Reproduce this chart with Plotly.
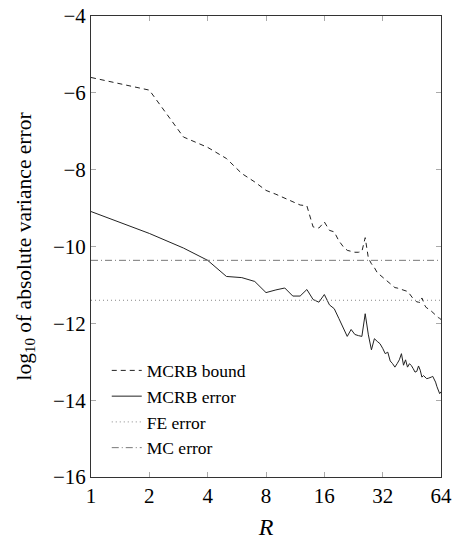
import plotly.graph_objects as go

R = list(range(1, 65))

mcrb_bound = [
    -5.60, -5.93, -7.15, -7.42, -7.71, -8.10, -8.32, -8.54, -8.64, -8.75,
    -8.84, -8.92, -8.94, -9.49, -9.52, -9.36, -9.58, -9.62, -9.85, -10.00,
    -10.10, -10.13, -10.15, -10.15, -10.13, -9.77, -10.30, -10.45, -10.55, -10.68,
    -10.74, -10.82, -10.88, -10.92, -10.98, -11.02, -11.07, -11.08, -11.10, -11.12,
    -11.14, -11.16, -11.17, -11.23, -11.30, -11.36, -11.40, -11.44, -11.45, -11.46,
    -11.34, -11.45, -11.55, -11.60, -11.62, -11.64, -11.68, -11.72, -11.75, -11.78,
    -11.82, -11.85, -11.87, -11.90,
]

mcrb_error = [
    -9.09, -9.66, -10.04, -10.36, -10.78, -10.81, -10.91, -11.20, -11.13, -11.08,
    -11.29, -11.29, -11.12, -11.38, -11.45, -11.25, -11.52, -11.62, -11.87, -12.10,
    -12.34, -12.16, -12.29, -12.32, -12.34, -11.75, -12.30, -12.69, -12.40, -12.47,
    -12.53, -12.65, -12.79, -12.75, -12.98, -13.05, -13.14, -13.05, -12.95, -12.79,
    -13.09, -12.95, -13.14, -13.05, -13.10, -13.18, -13.27, -13.25, -13.11, -13.22,
    -13.40, -13.36, -13.40, -13.44, -13.43, -13.42, -13.40, -13.38, -13.45, -13.53,
    -13.65, -13.75, -13.83, -13.78,
]

fe_error = -11.40
mc_error = -10.36

series_names = ["MCRB bound", "MCRB error", "FE error", "MC error"]
x_ticks = [1, 2, 4, 8, 16, 32, 64]
y_ticks = [-16, -14, -12, -10, -8, -6, -4]

FONT = "Liberation Serif, Times New Roman, serif"

fig = go.Figure()
fig.add_trace(go.Scatter(x=R, y=mcrb_bound, mode="lines", name=series_names[0],
                         line=dict(color="#222", width=1, dash="5px,4px")))
fig.add_trace(go.Scatter(x=R, y=mcrb_error, mode="lines", name=series_names[1],
                         line=dict(color="#222", width=1)))
fig.add_trace(go.Scatter(x=[R[0], R[-1]], y=[fe_error, fe_error], mode="lines", name=series_names[2],
                         line=dict(color="#888", width=1, dash="1px,3px")))
fig.add_trace(go.Scatter(x=[R[0], R[-1]], y=[mc_error, mc_error], mode="lines", name=series_names[3],
                         line=dict(color="#777", width=1, dash="7px,3px,1px,3px")))

fig.update_layout(
    width=461, height=540,
    margin=dict(l=91, r=20, t=16, b=63),
    paper_bgcolor="white", plot_bgcolor="white",
    font=dict(family=FONT, size=21, color="black"),
    showlegend=True,
    legend=dict(x=0.045, y=0.27, xanchor="left", yanchor="top",
                bgcolor="rgba(0,0,0,0)", font=dict(size=17.5, family=FONT),
                tracegroupgap=0, itemwidth=30),
)
fig.update_xaxes(
    type="log", range=[0, 1.80618], tickvals=x_ticks, ticktext=[str(v) for v in x_ticks],
    showgrid=False, zeroline=False, showline=True, linecolor="#333", linewidth=1, mirror="allticks",
    ticks="inside", ticklen=5, tickcolor="#aaa", automargin=False,
    title=dict(text="<i>R</i>", font=dict(size=24, family=FONT), standoff=13),
)
fig.update_yaxes(
    range=[-16, -4], tickvals=y_ticks,
    showgrid=False, zeroline=False, showline=True, linecolor="#333", linewidth=1, mirror="allticks",
    ticks="inside", ticklen=5, tickcolor="#aaa", automargin=False,
    title=dict(text="log<sub>10</sub> of absolute variance error", font=dict(size=21.5, family=FONT), standoff=15),
)

fig.write_html("out.html")
